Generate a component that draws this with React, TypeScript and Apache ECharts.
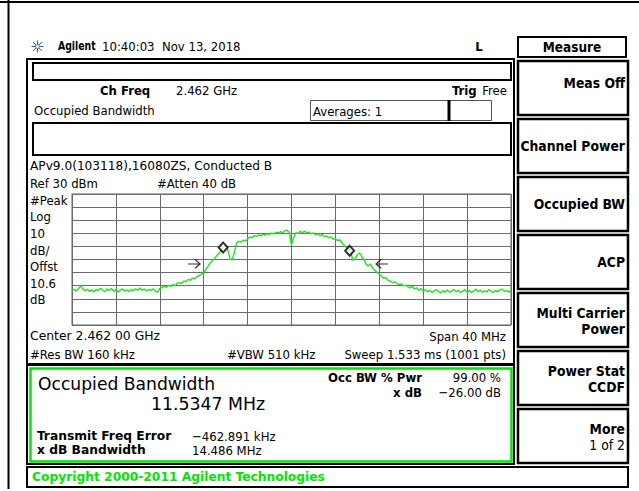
import React, { useEffect, useRef } from "react";
import * as echarts from "echarts";

// ---- data ----
// Trace: [frequency offset from centre (MHz), level (dBm)]
const traceData: [number, number][] = [
  [-20.0, -43.8], [-19.8, -42.9], [-19.6, -44.1], [-19.4, -42.2], [-19.2, -40.1], [-19.0, -42.6],
  [-18.8, -43.9], [-18.6, -42.7], [-18.4, -44.5], [-18.2, -43.2], [-18.0, -44.8], [-17.8, -42.9],
  [-17.6, -43.7], [-17.4, -41.9], [-17.2, -43.5], [-17.0, -44.6], [-16.8, -42.4], [-16.6, -43.8],
  [-16.4, -42.1], [-16.2, -44.3], [-16.0, -43.0], [-15.8, -44.9], [-15.6, -43.4], [-15.4, -42.5],
  [-15.2, -44.2], [-15.0, -43.1], [-14.8, -44.6], [-14.6, -42.8], [-14.4, -43.9], [-14.2, -42.3],
  [-14.0, -43.6], [-13.8, -41.8], [-13.6, -43.4], [-13.4, -42.6], [-13.2, -44.1], [-13.0, -42.9],
  [-12.8, -43.7], [-12.6, -42.4], [-12.4, -44.3], [-12.2, -45.0], [-12.0, -42.1],
  [-11.8, -41.5], [-11.6, -40.3], [-11.4, -41.2], [-11.2, -39.8], [-11.0, -40.6], [-10.8, -39.1],
  [-10.6, -39.9], [-10.4, -38.2], [-10.2, -37.6], [-10.0, -38.4], [-9.8, -36.3], [-9.6, -37.1],
  [-9.4, -35.2], [-9.2, -35.9], [-9.0, -34.1], [-8.8, -34.8], [-8.6, -33.0], [-8.4, -32.4],
  [-8.2, -31.1], [-8.0, -30.4], [-7.8, -27.6], [-7.6, -25.0], [-7.4, -22.5], [-7.2, -21.0],
  [-7.0, -19.2], [-6.8, -17.0], [-6.6, -15.3], [-6.4, -12.8],
  [-6.2, -10.6], [-6.0, -9.6], [-5.8, -12.8], [-5.6, -19.5], [-5.4, -20.5], [-5.2, -14.5],
  [-5.0, -7.3], [-4.8, -6.2], [-4.6, -6.8], [-4.4, -5.3], [-4.2, -5.9], [-4.0, -4.4],
  [-3.8, -2.9], [-3.6, -3.4], [-3.4, -1.8], [-3.2, -2.6], [-3.0, -1.2], [-2.8, -2.0],
  [-2.6, -0.8], [-2.4, -1.5], [-2.2, -0.3], [-2.0, -0.9], [-1.8, 0.2], [-1.6, -0.6],
  [-1.4, 0.8], [-1.2, 0.1], [-1.0, 1.3], [-0.8, 0.4], [-0.6, 1.9], [-0.4, 2.3],
  [-0.2, 0.5], [0.0, -8.8], [0.2, -3.2], [0.4, 0.6], [0.6, -0.2], [0.8, 1.5],
  [1.0, 0.4], [1.2, 1.7], [1.4, 0.2], [1.6, 0.9], [1.8, -0.5], [2.0, 0.3],
  [2.2, -1.1], [2.4, -0.4], [2.6, -1.9], [2.8, -1.0], [3.0, -2.7], [3.2, -2.1],
  [3.4, -3.5], [3.6, -2.8], [3.8, -4.6], [4.0, -4.0], [4.2, -5.6], [4.4, -5.1],
  [4.6, -7.4], [4.8, -9.2], [5.0, -10.6], [5.2, -12.1], [5.4, -14.6], [5.6, -20.8],
  [5.8, -19.5], [6.0, -16.2], [6.2, -15.1], [6.4, -17.9], [6.6, -20.2], [6.8, -23.7],
  [7.0, -24.9], [7.2, -23.4], [7.4, -26.8], [7.6, -28.5], [7.8, -29.7], [8.0, -31.2],
  [8.2, -32.6], [8.4, -34.3], [8.6, -33.8], [8.8, -35.9], [9.0, -36.5], [9.2, -37.8],
  [9.4, -37.0], [9.6, -38.4], [9.8, -39.2], [10.0, -38.6], [10.2, -40.1], [10.4, -39.5],
  [10.6, -40.8], [10.8, -41.7], [11.0, -40.4], [11.2, -42.5], [11.4, -41.6], [11.6, -43.4],
  [11.8, -42.2], [12.0, -44.3], [12.2, -43.1], [12.4, -44.8], [12.6, -43.6], [12.8, -45.2],
  [13.0, -44.0], [13.2, -42.9], [13.4, -44.5], [13.6, -45.6], [13.8, -43.8], [14.0, -44.9],
  [14.2, -43.3], [14.4, -45.1], [14.6, -44.2], [14.8, -42.8], [15.0, -44.7], [15.2, -43.5],
  [15.4, -45.3], [15.6, -44.1], [15.8, -43.0], [16.0, -44.9], [16.2, -43.7], [16.4, -45.4],
  [16.6, -44.0], [16.8, -42.7], [17.0, -44.6], [17.2, -43.4], [17.4, -45.0], [17.6, -43.9],
  [17.8, -44.8], [18.0, -42.9], [18.2, -44.3], [18.4, -45.2], [18.6, -43.6], [18.8, -44.7],
  [19.0, -43.2], [19.2, -42.6], [19.4, -44.4], [19.6, -43.7], [19.8, -44.9], [20.0, -43.8],
];

// occupied-bandwidth diamond markers [MHz, dBm]
const obwMarkers: [number, number][] = [
  [-6.23, -10.9],
  [5.3, -13.35],
];
// x dB bandwidth arrows [MHz, dBm, direction]
const xdbArrows: [number, number, string][] = [
  [-8.88, -23.4, "right"],
  [8.25, -23.4, "left"],
];

const X_MIN = -20; // MHz (span 40 MHz)
const X_MAX = 20;
const X_DIV = 4;
const REF_LEVEL = 30; // dBm
const DB_PER_DIV = 10;
const Y_MIN = REF_LEVEL - 10 * DB_PER_DIV;

const leftLabels = ["#Peak", "Log", "10", "dB/", "Offst", "10.6", "dB"];
const softkeys: { lines: string[]; bold: boolean[] }[] = [
  { lines: ["Meas Off"], bold: [true] },
  { lines: ["Channel Power"], bold: [true] },
  { lines: ["Occupied BW"], bold: [true] },
  { lines: ["ACP"], bold: [true] },
  { lines: ["Multi Carrier", "Power"], bold: [true, true] },
  { lines: ["Power Stat", "CCDF"], bold: [true, true] },
  { lines: ["More", "1 of 2"], bold: [true, false] },
];

const FONT = "'DejaVu Sans Condensed', 'Liberation Sans Narrow', 'DejaVu Sans', sans-serif";
const GREEN = "#00e600";

function T(
  x: number,
  y: number,
  text: string,
  size = 13,
  bold = false,
  align: "left" | "right" | "center" = "left",
  fill = "#000",
  sx = 1
) {
  return {
    type: "text",
    silent: true,
    z: 10,
    x,
    y,
    scaleX: sx,
    style: {
      x: 0,
      y: 0,
      text,
      fill,
      font: `${bold ? "bold " : ""}${size}px ${FONT}`,
      textAlign: align,
      align,
      textVerticalAlign: "middle",
      verticalAlign: "middle",
    },
  };
}

function R(x: number, y: number, w: number, h: number, stroke = "#000", lw = 2, fill = "none") {
  return {
    type: "rect",
    silent: true,
    z: 5,
    shape: { x, y, width: w, height: h },
    style: { fill, stroke, lineWidth: lw },
  };
}

function L(x1: number, y1: number, x2: number, y2: number, stroke = "#000", lw = 2) {
  return {
    type: "line",
    silent: true,
    z: 5,
    shape: { x1, y1, x2, y2 },
    style: { stroke, lineWidth: lw },
  };
}

function buildGraphic() {
  const els: any[] = [];
  // outer frame lines
  els.push(L(0, 2, 639, 2, "#000", 2));
  els.push(L(8.5, 0, 8.5, 489, "#000", 2));

  // Agilent icon
  const cx = 37.5,
    cy = 46.5;
  const ic = "#3b5fe0";
  els.push(L(cx - 6, cy, cx + 6, cy, ic, 1));
  els.push(L(cx, cy - 6, cx, cy + 6, ic, 1));
  els.push(L(cx - 4.5, cy - 4.5, cx + 4.5, cy + 4.5, ic, 1));
  els.push(L(cx - 4.5, cy + 4.5, cx + 4.5, cy - 4.5, ic, 1));
  els.push({ type: "circle", silent: true, z: 6, shape: { cx, cy, r: 2 }, style: { fill: "#fff", stroke: ic, lineWidth: 1 } });

  // header
  els.push(T(58, 46.5, "Agilent", 11.5, true, "left", "#000", 0.9));
  els.push(T(102, 46.5, "10:40:03  Nov 13, 2018", 13));
  els.push(T(479, 46.5, "L", 13, true, "center"));

  // main panel
  els.push(R(27, 59, 487, 305, "#000", 2));
  els.push(R(33, 63, 478, 17, "#000", 2));
  els.push(T(100, 90, "Ch Freq", 13, true));
  els.push(T(176, 90, "2.462 GHz", 13));
  els.push(T(452, 90, "Trig", 13, true, "left"));
  els.push(T(507, 90, "Free", 13, false, "right"));
  els.push(T(34, 110, "Occupied Bandwidth", 13));
  // averages box
  els.push(R(310.5, 100.5, 181, 20, "#555", 1));
  els.push(L(449, 100, 449, 121, "#000", 3));
  els.push(T(313, 111, "Averages: 1", 13));
  // second box
  els.push(R(33, 123, 478, 32, "#000", 2));
  els.push(T(30, 166, "APv9.0(103118),16080ZS, Conducted B", 13, false, "left", "#000", 1.04));
  els.push(T(30, 183, "Ref 30 dBm", 13));
  els.push(T(157, 183, "#Atten 40 dB", 13));
  const leftYs = [200, 216.5, 233, 250, 266.5, 283, 299];
  leftLabels.forEach((s, i) => els.push(T(30, leftYs[i], s, 13)));
  els.push(T(30, 336, "Center 2.462 00 GHz", 13, false, "left", "#000", 1.06));
  els.push(T(506, 336, "Span 40 MHz", 13, false, "right"));
  els.push(T(30, 354, "#Res BW 160 kHz", 13));
  els.push(T(227, 354, "#VBW 510 kHz", 13));
  els.push(T(506, 354, "Sweep 1.533 ms (1001 pts)", 13, false, "right"));

  // results box
  els.push(R(27, 365, 487, 99, "#000", 2));
  els.push(R(30.5, 368.5, 481, 93, GREEN, 2.5));
  els.push(T(38, 384, "Occupied Bandwidth", 18, false, "left", "#000", 1.06));
  els.push(T(151, 404, "11.5347 MHz", 18, false, "left", "#000", 1.07));
  els.push(T(37, 436, "Transmit Freq Error", 13, true, "left", "#000", 1.05));
  els.push(T(192, 436, "\u2212462.891 kHz", 13));
  els.push(T(37, 450, "x dB Bandwidth", 13, true, "left", "#000", 1.05));
  els.push(T(192, 450, "14.486 MHz", 13));
  els.push(T(422, 377, "Occ BW % Pwr", 13, true, "right"));
  els.push(T(501, 377, "99.00 %", 13, false, "right"));
  els.push(T(422, 392, "x dB", 13, true, "right"));
  els.push(T(501, 392, "\u221226.00 dB", 13, false, "right"));

  // copyright box
  els.push(R(27, 467, 601, 20, "#000", 2));
  els.push(T(32, 477, "Copyright 2000-2011 Agilent Technologies", 13, true, "left", GREEN, 1.05));

  // softkeys
  els.push(R(518, 37, 108, 20, "#000", 2));
  els.push(T(572, 47, "Measure", 13.5, true, "center"));
  softkeys.forEach((k, i) => {
    const y0 = 61 + 58 * i;
    els.push(R(518, y0, 110, 54, "#000", 2.5));
    const c = y0 + 27;
    if (k.lines.length === 1) {
      els.push(T(625, i === 0 ? c - 5 : c, k.lines[0], 13.8, k.bold[0], "right"));
    } else {
      els.push(T(625, c - 7, k.lines[0], 13.8, k.bold[0], "right"));
      els.push(T(625, c + 9, k.lines[1], 13.8, k.bold[1], "right"));
    }
  });
  return els;
}

const RIGHT_ARROW = "path://M0,5L12,5M7,1L12,5L7,9";
const LEFT_ARROW = "path://M12,5L0,5M5,1L0,5L5,9";

export default function App() {
  const ref = useRef<HTMLDivElement>(null);
  useEffect(() => {
    if (!ref.current) return;
    const chart = echarts.init(ref.current, null, { renderer: "svg", width: 639, height: 491 });
    chart.setOption({
      animation: false,
      backgroundColor: "#fff",
      grid: {
        left: 72,
        top: 194,
        width: 439,
        height: 131,
        show: true,
        borderColor: "#606060",
        borderWidth: 1,
        backgroundColor: "transparent",
      },
      xAxis: {
        type: "value",
        min: X_MIN,
        max: X_MAX,
        interval: X_DIV,
        axisLine: { show: false },
        axisTick: { show: false },
        axisLabel: { show: false },
        splitLine: { show: true, lineStyle: { color: "#6a6a6a", width: 1 } },
      },
      yAxis: {
        type: "value",
        min: Y_MIN,
        max: REF_LEVEL,
        interval: DB_PER_DIV,
        axisLine: { show: false },
        axisTick: { show: false },
        axisLabel: { show: false },
        splitLine: { show: true, lineStyle: { color: "#6a6a6a", width: 1 } },
      },
      series: [
        {
          type: "line",
          data: traceData,
          showSymbol: false,
          symbol: "none",
          lineStyle: { color: "#1ee61e", width: 1.4 },
          z: 3,
          silent: true,
        },
        {
          type: "scatter",
          data: obwMarkers,
          symbol: "diamond",
          symbolSize: [9, 10],
          itemStyle: { color: "#fff", borderColor: "#000", borderWidth: 2 },
          z: 4,
          silent: true,
        },
        {
          type: "scatter",
          data: xdbArrows.map((a) => ({
            value: [a[0], a[1]],
            symbol: a[2] === "right" ? RIGHT_ARROW : LEFT_ARROW,
          })),
          symbolSize: [12, 9],
          itemStyle: { color: "none", borderColor: "#000", borderWidth: 1.2 },
          z: 4,
          silent: true,
        },
      ],
      graphic: { elements: buildGraphic() },
    });
    return () => chart.dispose();
  }, []);
  return (
    <div
      ref={ref}
      style={{ position: "absolute", left: 0, top: 0, width: 639, height: 491, background: "#fff" }}
    />
  );
}
